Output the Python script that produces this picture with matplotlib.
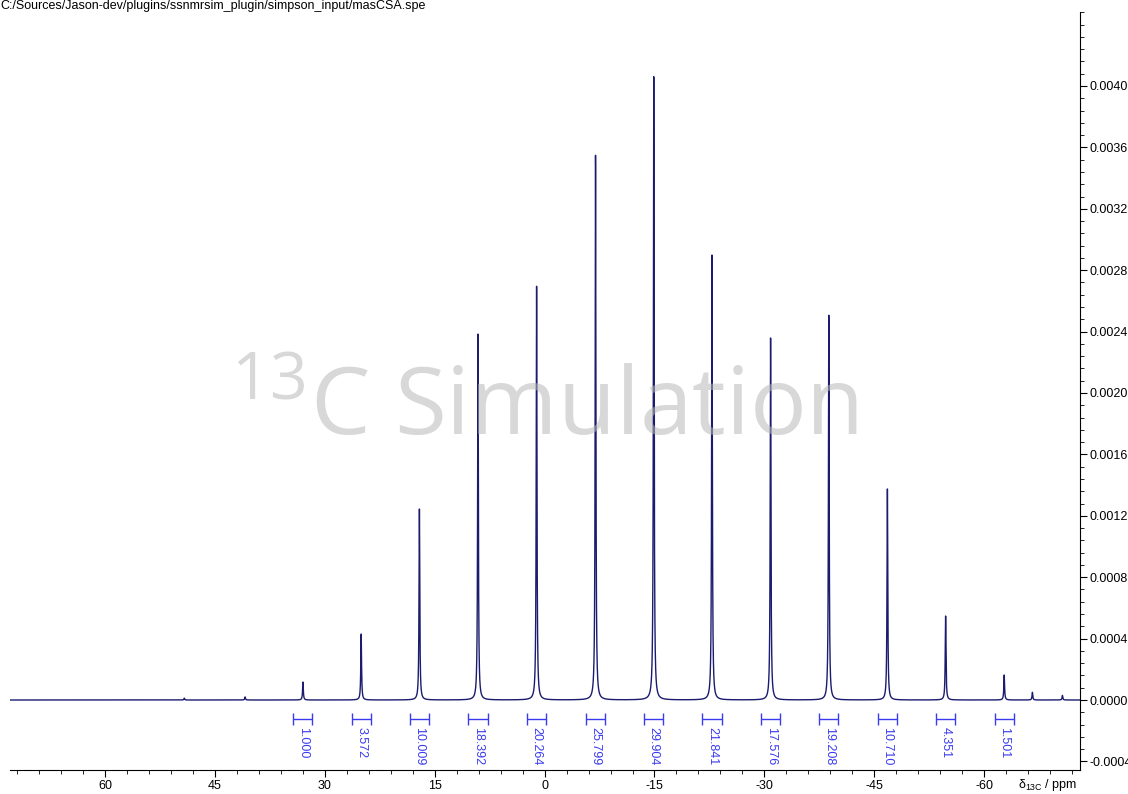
import numpy as np
import matplotlib.pyplot as plt
from matplotlib.ticker import MultipleLocator, FixedLocator, FormatStrFormatter

plt.rcParams['font.family'] = ['Liberation Sans', 'DejaVu Sans']
plt.rcParams['axes.unicode_minus'] = False

# peak positions (ppm) and heights of the MAS spectrum, incl. the small bumps
shifts = [49.2, 40.9, 33.0, 25.05, 17.1, 9.1, 1.1, -6.95, -14.9, -22.85,
          -30.85, -38.8, -46.8, -54.75, -62.75, -66.6, -70.7]
heights = [0.000012, 0.00002, 0.000117, 0.00043, 0.001244, 0.002384, 0.002697,
           0.00355, 0.00406, 0.0029, 0.002358, 0.002508, 0.001375, 0.000547,
           0.000163, 0.00005, 0.00003]
hwhm = 0.06  # ppm

# integrated regions (centre ppm) and their relative integrals
int_centres = [33.0, 25.05, 17.1, 9.1, 1.1, -6.95, -14.9, -22.85, -30.85,
               -38.8, -46.8, -54.75, -62.75]
int_labels = ['1.000', '3.572', '10.009', '18.392', '20.264', '25.799', '29.904',
              '21.841', '17.576', '19.208', '10.710', '4.351', '1.501']
int_halfwidth = 1.3

# labelled intensity ticks
y_ticks = [-0.0004, 0.0, 0.0004, 0.0008, 0.0012, 0.0016, 0.0020,
           0.0024, 0.0028, 0.0032, 0.0036, 0.0040]

ppm = np.linspace(73.2, -73.3, 40000)
spec = np.zeros_like(ppm)
for s, h in zip(shifts, heights):
    spec += h * hwhm**2 / ((ppm - s)**2 + hwhm**2)

fig = plt.figure(figsize=(11.28, 7.94), dpi=100)
ax = fig.add_axes([10 / 1128, 24 / 794, 1070 / 1128, 758 / 794])

ax.plot(ppm, spec, color='#1b1b6f', lw=1.0)

# integral brackets with their values underneath
blue = '#3a3af0'
y_bar, cap = -0.000124, 0.00004
for c, lab in zip(int_centres, int_labels):
    x0, x1 = c + int_halfwidth, c - int_halfwidth
    ax.hlines(y_bar, x0, x1, color=blue, lw=1.0)
    ax.vlines([x0, x1], y_bar - cap, y_bar + cap, color=blue, lw=1.0)
    ax.text(c, y_bar - cap - 0.000012, lab, rotation=-90, ha='center', va='top',
            color=blue, fontsize=9)

ax.text(0.5, 0.442, r'$\mathregular{^{13}}$C Simulation', transform=ax.transAxes,
        ha='center', va='baseline', fontsize=68, family='Open Sans',
        color='#b8b8b8', alpha=0.55, zorder=5)

ax.set_xlim(73.0, -73.1)
ax.set_ylim(-0.000456, 0.004482)

for side in ('top', 'left'):
    ax.spines[side].set_visible(False)
ax.yaxis.tick_right()
ax.xaxis.set_major_locator(MultipleLocator(15))
ax.xaxis.set_minor_locator(MultipleLocator(3))
ax.yaxis.set_major_locator(FixedLocator(y_ticks))
ax.yaxis.set_minor_locator(MultipleLocator(0.00008))
ax.yaxis.set_major_formatter(FormatStrFormatter('%.4f'))
ax.tick_params(which='major', direction='out', length=5, labelsize=9, pad=2)
ax.tick_params(axis='y', which='major', pad=1.5)
ax.tick_params(which='minor', direction='out', length=3)

fig.text(1018 / 1128, 1 - 785 / 794, r'$\mathregular{\delta_{13C}}$ / ppm',
         fontsize=9, va='center', ha='left')
fig.text(0.0, 1.0, 'C:/Sources/Jason-dev/plugins/ssnmrsim_plugin/simpson_input/masCSA.spe',
         fontsize=9, va='top', ha='left')

fig.savefig('out.png', dpi=100)
